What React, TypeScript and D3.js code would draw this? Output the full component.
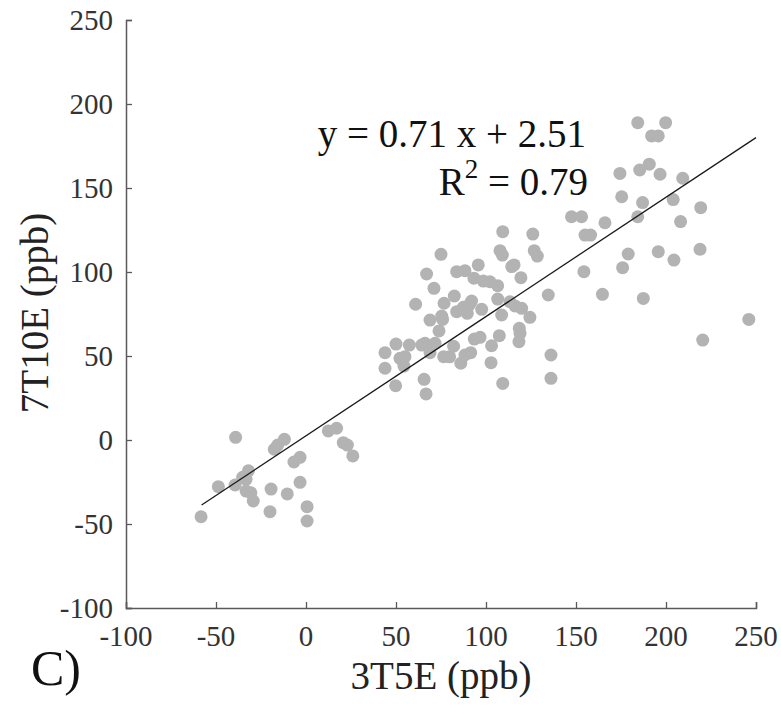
import React, { useRef, useEffect } from 'react';
import * as d3 from 'd3';

// 3T5E (x) vs 7T10E (y), ppb
const xVals = [
  -58.3, -48.7, -39.1, -39.4, -35.2, -33.3, -32, -33.3, -30.6, -29.3,
  -19.4, -20, -17.6, -15.7, -12, -10.4, -6.7, -3.3, -3.3, 0.6, 0.6,
  12.4, 17, 20.7, 23, 26,
  43.9, 43.9, 50, 49.8, 52.2, 55, 54.4, 57.4, 60.9, 64.3, 66.1, 65.6, 66.7,
  67, 71.1, 68.9, 68.9, 71.7, 75, 73.9, 75.4, 75.9, 76.7, 76.5, 79.8, 82,
  82.4, 83.7, 88.3, 83.7, 89.6, 87.4, 90.7, 92, 86, 88.3, 91.5, 93.3, 93.5,
  96.7, 95.7, 97.6, 98.5, 102.2, 106.5, 102.8, 103.1, 106.5, 107.4, 107.8,
  109.1, 109.3, 108.7, 109.3, 113.3, 114.3, 115.6, 116.1, 119.4, 119.8,
  118.5, 118.9, 118.3, 124.4, 126, 126.8, 128.5, 134.6, 136.1, 136.1,
  147.5, 153.1, 155, 158.1, 154.4, 166.1, 164.7, 174.4, 175.4, 175.9, 179,
  184.3, 185.4, 184.3, 187, 187.4, 190.7, 192, 195.7, 196.7, 195.7, 199.8,
  204, 204.4, 208.1, 209.3, 219.3, 218.9, 220.4, 246
];
const yVals = [
  -45.7, -27.8, 1.6, -26.8, -22.2, -23.4, -18.3, -30.4, -31.4, -36.3,
  -29.2, -42.7, -5.5, -3, 0.4, -32.1, -13.1, -10.3, -25.2, -39.7, -48.2,
  5.4, 7, -1.6, -3, -9.5,
  52, 42.7, 57.1, 32.3, 48.6, 49.6, 44, 56.5, 80.8, 56.5, 57.6, 36.1, 27.4,
  98.8, 90.3, 71.4, 52, 57.6, 110.5, 64.9, 73.8, 71.8, 81.4, 49.6, 49.5, 55.8,
  85.7, 100.2, 100.8, 76.4, 75.4, 79, 80.4, 82.7, 45.7, 50.6, 52, 96.3, 60.1,
  61.1, 104.2, 77.8, 94.6, 94.2, 91.8, 46, 56.1, 83.9, 62.1, 112.7,
  110.1, 124, 74.4, 33.7, 82.3, 103.2, 104.2, 79.8, 96.6, 78.4,
  66.5, 63.5, 58.5, 73, 122.6, 112.7, 109.5, 86.3, 50.6, 36.7,
  132.9, 132.9, 122, 122, 100.2, 129.3, 86.7, 158.7, 144.8, 102.6, 110.7,
  188.9, 160.7, 132.9, 141.3, 84.3, 164.2, 181, 181, 158.2, 112.1, 188.9,
  143.1, 107.1, 130, 155.8, 138.3, 113.5, 59.5, 71.8
];

const xTicks = [-100, -50, 0, 50, 100, 150, 200, 250];
const yTicks = [-100, -50, 0, 50, 100, 150, 200, 250];

const slope = 0.71;
const intercept = 2.51;
const fitRange = [-58, 250];

const App = () => {
  const svgRef = useRef(null);

  useEffect(() => {
    d3.select(svgRef.current).selectAll('*').remove();

    const w = 781;
    const h = 706;
    const svg = d3.select(svgRef.current)
      .attr('width', w)
      .attr('height', h)
      .attr('font-family', 'Liberation Serif, DejaVu Serif, serif');

    const x = d3.scaleLinear().domain([-100, 250]).range([126, 756]);
    const y = d3.scaleLinear().domain([-100, 250]).range([608, 20]);

    const axisColor = '#5a5a5a';

    // points
    svg.append('g')
      .selectAll('circle')
      .data(xVals.map((v, i) => [v, yVals[i]]))
      .join('circle')
      .attr('cx', d => x(d[0]))
      .attr('cy', d => y(d[1]))
      .attr('r', 6.5)
      .attr('fill', '#b3b3b3');

    // fit line
    svg.append('line')
      .attr('x1', x(fitRange[0]))
      .attr('y1', y(slope * fitRange[0] + intercept))
      .attr('x2', x(fitRange[1]))
      .attr('y2', y(slope * fitRange[1] + intercept))
      .attr('stroke', '#1a1a1a')
      .attr('stroke-width', 1.3);

    // axes
    const xAxis = svg.append('g')
      .attr('transform', `translate(0,${y(-100)})`)
      .call(d3.axisTop(x).tickValues(xTicks).tickSize(6).tickFormat(() => ''));
    const yAxis = svg.append('g')
      .attr('transform', `translate(${x(-100)},0)`)
      .call(d3.axisRight(y).tickValues(yTicks).tickSize(6).tickFormat(() => ''));
    [xAxis, yAxis].forEach(a => {
      a.select('.domain').attr('stroke', axisColor).attr('stroke-width', 1.5);
      a.selectAll('.tick line').attr('stroke', axisColor).attr('stroke-width', 1.3);
    });

    svg.append('g')
      .selectAll('text')
      .data(xTicks)
      .join('text')
      .attr('x', d => x(d))
      .attr('y', 646)
      .attr('text-anchor', 'middle')
      .attr('font-size', 29)
      .attr('fill', '#333')
      .text(d => d);

    svg.append('g')
      .selectAll('text')
      .data(yTicks)
      .join('text')
      .attr('x', 113)
      .attr('y', d => y(d) + 10)
      .attr('text-anchor', 'end')
      .attr('font-size', 29)
      .attr('fill', '#333')
      .text(d => d);

    // axis labels
    svg.append('text')
      .attr('x', 441)
      .attr('y', 689)
      .attr('text-anchor', 'middle')
      .attr('font-size', 39)
      .attr('fill', '#222')
      .text('3T5E (ppb)');

    svg.append('text')
      .attr('transform', 'translate(48,313) rotate(-90)')
      .attr('text-anchor', 'middle')
      .attr('font-size', 39)
      .attr('fill', '#222')
      .text('7T10E (ppb)');

    svg.append('text')
      .attr('x', 31)
      .attr('y', 685)
      .attr('font-size', 50)
      .attr('fill', '#111')
      .text('C)');

    // equation
    svg.append('text')
      .attr('x', 586)
      .attr('y', 147)
      .attr('text-anchor', 'end')
      .attr('font-size', 39)
      .attr('fill', '#111')
      .text('y = 0.71 x + 2.51');

    const r2 = svg.append('text')
      .attr('x', 588)
      .attr('y', 195)
      .attr('text-anchor', 'end')
      .attr('font-size', 39)
      .attr('fill', '#111');
    r2.append('tspan').text('R');
    r2.append('tspan').attr('dy', -17).attr('font-size', 27).text('2');
    r2.append('tspan').attr('dy', 17).text(' = 0.79');
  }, []);

  return (
    <svg ref={svgRef} style={{ position: 'absolute', left: 0, top: 0 }}></svg>
  );
};

export default App;
